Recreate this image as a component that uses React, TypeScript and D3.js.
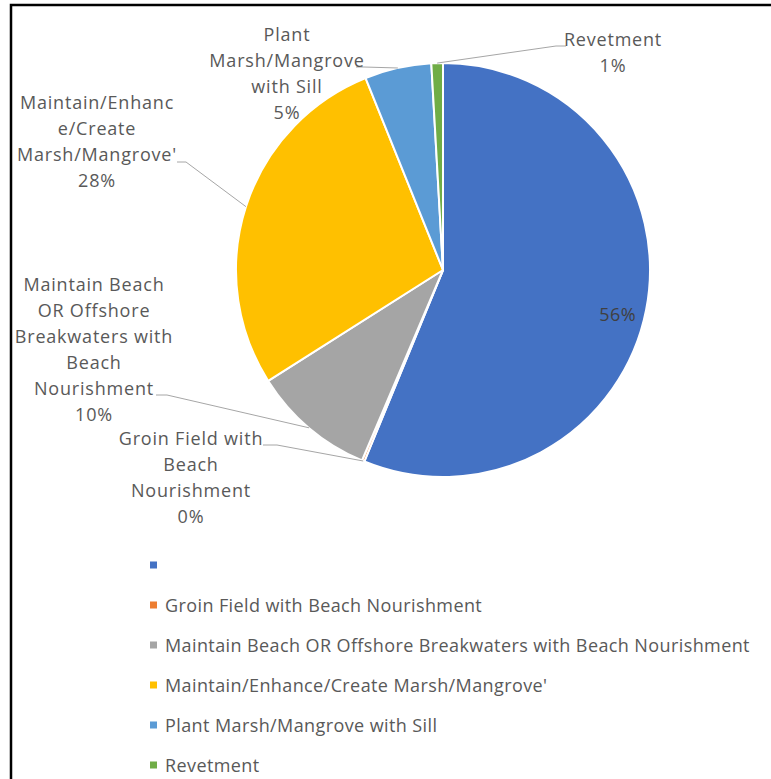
import React from "react";
import * as d3 from "d3";

const categories = [
  "",
  "Groin Field with Beach Nourishment",
  "Maintain Beach OR Offshore Breakwaters with Beach Nourishment",
  "Maintain/Enhance/Create Marsh/Mangrove'",
  "Plant Marsh/Mangrove with Sill",
  "Revetment",
];
const values = [56.2, 0.2, 9.6, 27.9, 5.2, 0.9];
const colors = ["#4472C4", "#ED7D31", "#A5A5A5", "#FFC000", "#5B9BD5", "#70AD47"];
// wrapped data-label text (category part), percent appended from values
const labelLines = [
  [],
  ["Groin Field with", "Beach", "Nourishment"],
  ["Maintain Beach", "OR Offshore", "Breakwaters with", "Beach", "Nourishment"],
  ["Maintain/Enhanc", "e/Create", "Marsh/Mangrove'"],
  ["Plant", "Marsh/Mangrove", "with Sill"],
  ["Revetment"],
];

// layout (positions only)
const W = 771, H = 779;
const cx = 443, cy = 270, R = 207;
const LINE = 26;
const labelLayout: Record<number, { x: number; y0: number; lead: [number, number][] }> = {
  1: { x: 191, y0: 438, lead: [[263, 445], [277, 445]] },
  2: { x: 94, y0: 284, lead: [[156, 395], [167, 395]] },
  3: { x: 97, y0: 102, lead: [[177, 162], [186, 162]] },
  4: { x: 287, y0: 34, lead: [[356, 67], [364, 67]] },
  5: { x: 613, y0: 39, lead: [[566, 46], [556, 46]] },
};

export default function App() {
  const total = d3.sum(values);
  const pct = d3.format(".0%");
  const pie = d3.pie<number>().sort(null).value((d) => d)(values);
  const arc = d3.arc<d3.PieArcDatum<number>>().innerRadius(0).outerRadius(R);
  const font = "'Open Sans', sans-serif";
  const textColor = "#595959";
  const legendY = d3.scalePoint<number>().domain(d3.range(categories.length)).range([565, 765]);

  return (
    <svg width={W} height={H} style={{ position: "absolute", left: 0, top: 0, background: "#fff" }}>
      <rect x={0} y={0} width={W} height={H} fill="#fff" />
      <rect x={11} y={5} width={W + 20} height={H + 20} fill="none" stroke="#000" strokeWidth={2.5} />
      <g transform={`translate(${cx},${cy})`}>
        {pie.map((p, i) => (
          <path key={i} d={arc(p) || ""} fill={colors[i]} stroke="#fff" strokeWidth={2} strokeLinejoin="round" />
        ))}
      </g>
      {pie.map((p, i) => {
        const mid = (p.startAngle + p.endAngle) / 2;
        const pctText = pct(p.value / total);
        if (i === 0) {
          const rr = R * 0.86;
          return (
            <text key={i} x={cx + rr * Math.sin(mid)} y={cy - rr * Math.cos(mid) + 10} textAnchor="middle"
              dominantBaseline="central" fontFamily={font} fontSize={18} fill="#404040" letterSpacing={0.5}>{pctText}</text>
          );
        }
        const L = labelLayout[i];
        const sx = cx + R * Math.sin(mid), sy = cy - R * Math.cos(mid);
        const pts = [[sx, sy], ...L.lead.slice().reverse()];
        const lines = [...labelLines[i], pctText];
        return (
          <g key={i}>
            <polyline points={pts.map((q) => q.join(",")).join(" ")} fill="none" stroke="#a6a6a6" strokeWidth={1} />
            {lines.map((t, j) => (
              <text key={j} x={L.x} y={L.y0 + j * LINE} textAnchor="middle" dominantBaseline="central"
                fontFamily={font} fontSize={18} fill={textColor} letterSpacing={0.8}>{t}</text>
            ))}
          </g>
        );
      })}
      {categories.map((c, i) => (
        <g key={i} transform={`translate(150,${legendY(i)})`}>
          <rect x={0} y={-3.5} width={7} height={7} fill={colors[i]} />
          <text x={15} y={0} dominantBaseline="central" fontFamily={font} fontSize={18} fill={textColor}
            letterSpacing={0.4}>{c}</text>
        </g>
      ))}
    </svg>
  );
}
